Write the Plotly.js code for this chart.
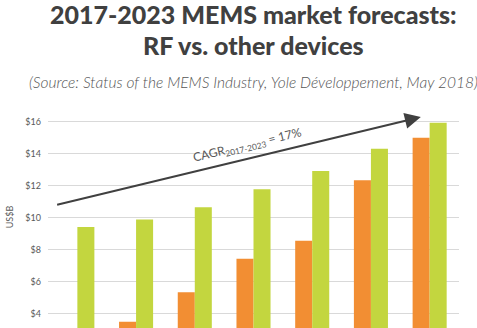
<!DOCTYPE html>
<html>
<head>
<meta charset="utf-8">
<script src="https://cdn.plot.ly/plotly-3.0.1.min.js"></script>
<style>
html,body{margin:0;padding:0;background:#fff;}
#chart{width:477px;height:328px;}
</style>
</head>
<body>
<div id="chart"></div>
<script>
const years = ["2017","2018","2019","2020","2021","2022","2023"];
const rfValues = [2.6, 3.5, 5.34, 7.44, 8.56, 12.34, 15.0];
const otherValues = [9.42, 9.88, 10.65, 11.78, 12.92, 14.31, 15.94];
const tickValues = [4, 6, 8, 10, 12, 14, 16];
const tickLabels = ["$4", "$6", "$8", "$10", "$12", "$14", "$16"];

const xIdx = years.map((_, i) => i);

const traces = [
  {type: "bar", name: "RF", x: xIdx, y: rfValues, marker: {color: "#F28E33"}, hoverinfo: "skip"},
  {type: "bar", name: "Other devices", x: xIdx, y: otherValues, marker: {color: "#C3D63F"}, hoverinfo: "skip"}
];

const layout = {
  width: 477, height: 328,
  margin: {l: 48, r: 18, t: 106, b: 0},
  paper_bgcolor: "#fff", plot_bgcolor: "#fff",
  showlegend: false,
  barmode: "group",
  bargap: 0.42,
  bargroupgap: 0,
  font: {family: "Lato, 'Open Sans', sans-serif", color: "#595959"},
  xaxis: {range: [-0.5, 6.5], showticklabels: false, showgrid: false, zeroline: false, showline: false, ticks: ""},
  yaxis: {
    range: [3.106, 16.98], tickvals: tickValues, ticktext: tickLabels,
    showgrid: true, gridcolor: "#D9D9D9", gridwidth: 1, zeroline: false, showline: false,
    tickfont: {size: 9, color: "#595959", family: "Lato, sans-serif"},
    ticklabelstandoff: 6,
    title: {text: "US$B", font: {size: 9, color: "#595959"}, standoff: 10}
  },
  annotations: [
    {xref: "paper", yref: "paper", x: 0.5, y: 1, xanchor: "center", yanchor: "bottom", yshift: 76, borderpad: 0,
     text: "2017-2023 MEMS market forecasts:", showarrow: false,
     font: {family: "Lato, sans-serif", size: 25, weight: 900, color: "#404040"}},
    {xref: "paper", yref: "paper", x: 0.5, y: 1, xanchor: "center", yanchor: "bottom", yshift: 45, borderpad: 0,
     text: "RF vs. other devices", showarrow: false,
     font: {family: "Lato, sans-serif", size: 25, weight: 900, color: "#404040"}},
    {xref: "paper", yref: "paper", x: 0.5, y: 1, xanchor: "center", yanchor: "bottom", yshift: 13,
     text: "(Source: Status of the MEMS Industry, Yole Développement, May 2018)", showarrow: false,
     font: {family: "Lato, sans-serif", size: 15.5, style: "italic", weight: 300, color: "#555555"}},
    {xref: "x", yref: "y", axref: "x", ayref: "y",
     x: 5.85, y: 16.29, ax: -0.37, ay: 10.79,
     showarrow: true, arrowhead: 2, arrowsize: 1.6, arrowwidth: 2, arrowcolor: "#404040", text: "", standoff: 0},
    {xref: "x", yref: "y", x: 2.89, y: 14.5, text: "CAGR<sub>2017-2023</sub> = 17%", showarrow: false,
     textangle: -13.5, font: {family: "Lato, sans-serif", size: 12, color: "#595959"}}
  ]
};

Plotly.newPlot("chart", traces, layout, {staticPlot: true, displayModeBar: false});
</script>
</body>
</html>
